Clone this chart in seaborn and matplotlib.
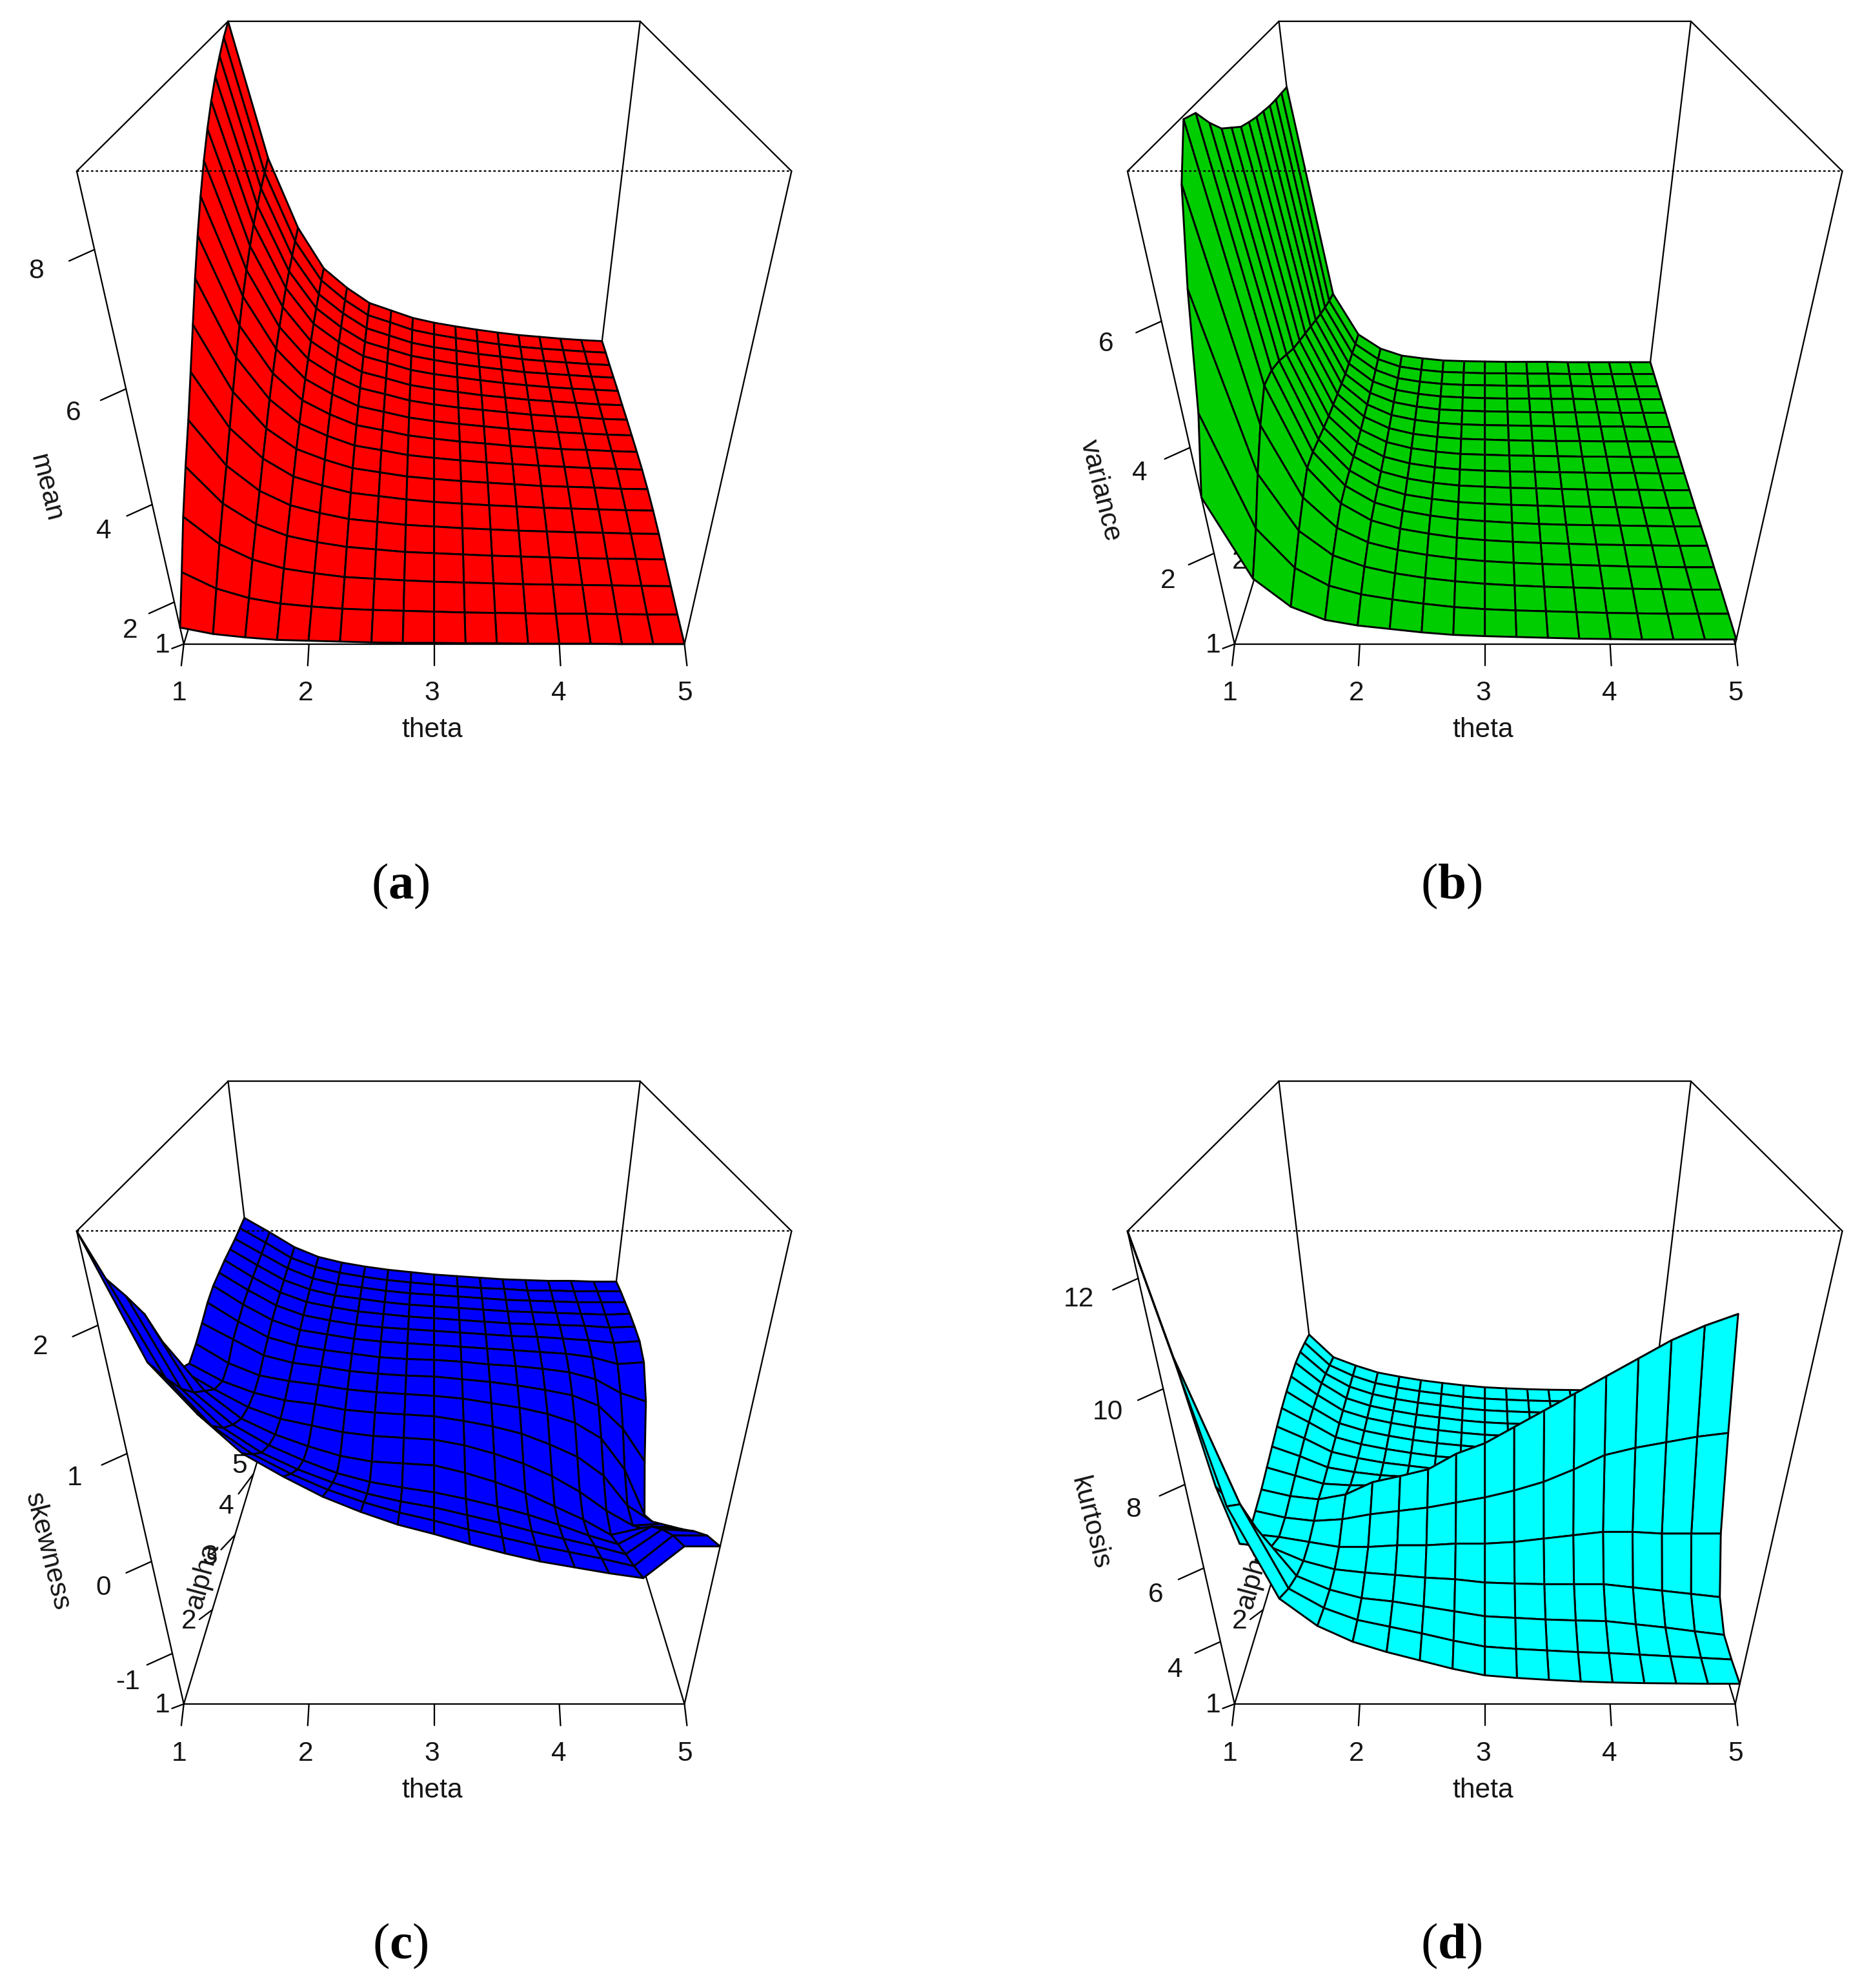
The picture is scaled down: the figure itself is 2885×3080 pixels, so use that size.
import numpy as np
import matplotlib
matplotlib.use("Agg")
import matplotlib.pyplot as plt
import seaborn as sns
from matplotlib.collections import PolyCollection

sns.set_style("white")
plt.rcParams['font.family'] = ['Liberation Sans', 'DejaVu Sans']
plt.rcParams['mathtext.fontset'] = 'custom'
plt.rcParams['mathtext.bf'] = 'Liberation Serif:bold'
plt.rcParams['mathtext.rm'] = 'Liberation Serif'

theta_grid = np.arange(1, 5.01, 0.25)
alpha_grid = np.arange(1, 5.01, 0.25)
axis_ticks = [1, 2, 3, 4, 5]

# one row per alpha, left to right in theta
mean_z = [
    [1.42,1.27,1.19,1.13,1.11,1.09,1.07,1.06,1.06,1.05,1.05,1.04,1.04,1.04,1.03,1.03,1.03],
    [2.10,1.73,1.51,1.38,1.31,1.26,1.23,1.21,1.19,1.17,1.16,1.15,1.14,1.14,1.13,1.12,1.12],
    [2.80,2.20,1.85,1.64,1.53,1.44,1.40,1.36,1.33,1.31,1.29,1.27,1.26,1.25,1.24,1.23,1.22],
    [3.40,2.61,2.15,1.88,1.73,1.62,1.56,1.50,1.47,1.44,1.41,1.39,1.37,1.35,1.34,1.33,1.32],
    [3.95,2.99,2.43,2.10,1.92,1.78,1.71,1.64,1.60,1.56,1.53,1.50,1.48,1.46,1.45,1.43,1.42],
    [4.55,3.39,2.72,2.31,2.10,1.93,1.85,1.77,1.71,1.67,1.63,1.60,1.57,1.55,1.53,1.51,1.50],
    [5.15,3.79,2.99,2.52,2.27,2.07,1.97,1.87,1.81,1.76,1.72,1.68,1.64,1.62,1.60,1.57,1.56],
    [5.75,4.17,3.26,2.71,2.42,2.19,2.08,1.96,1.89,1.83,1.78,1.74,1.70,1.67,1.64,1.62,1.60],
    [6.30,4.52,3.49,2.87,2.54,2.28,2.16,2.03,1.95,1.88,1.83,1.77,1.73,1.69,1.67,1.64,1.62],
    [6.80,4.84,3.70,3.01,2.65,2.36,2.22,2.08,1.99,1.92,1.86,1.80,1.75,1.71,1.68,1.65,1.63],
    [7.25,5.12,3.88,3.14,2.74,2.44,2.29,2.13,2.03,1.95,1.89,1.83,1.77,1.73,1.70,1.66,1.64],
    [7.65,5.37,4.04,3.24,2.82,2.49,2.33,2.16,2.06,1.98,1.90,1.84,1.78,1.74,1.70,1.66,1.64],
    [8.00,5.59,4.19,3.35,2.90,2.55,2.38,2.20,2.09,2.01,1.93,1.86,1.80,1.75,1.71,1.68,1.65],
    [8.30,5.77,4.31,3.43,2.96,2.59,2.41,2.23,2.12,2.02,1.94,1.87,1.80,1.76,1.72,1.68,1.65],
    [8.55,5.93,4.41,3.49,3.01,2.63,2.44,2.25,2.13,2.04,1.95,1.88,1.81,1.76,1.72,1.68,1.65],
    [8.78,6.07,4.51,3.56,3.06,2.67,2.48,2.28,2.16,2.06,1.97,1.89,1.82,1.77,1.73,1.69,1.66],
    [8.97,6.20,4.60,3.60,3.10,2.70,2.50,2.30,2.17,2.07,1.98,1.90,1.83,1.78,1.73,1.69,1.66],
]

variance_z = [
    [3.10,1.47,.85,.55,.42,.34,.26,.20,.17,.15,.13,.11,.10,.09,.09,.09,.09],
    [4.20,2.00,1.15,.75,.55,.43,.33,.25,.20,.17,.15,.13,.11,.10,.09,.09,.09],
    [5.90,2.65,1.45,.90,.64,.48,.37,.29,.23,.19,.16,.14,.12,.11,.10,.09,.09],
    [7.20,3.20,1.70,1.02,.68,.50,.38,.29,.23,.19,.16,.14,.12,.10,.09,.08,.08],
    [7.92,3.60,1.90,1.10,.70,.50,.38,.28,.22,.18,.15,.13,.11,.10,.09,.08,.08],
    [7.85,3.55,1.83,1.05,.65,.45,.33,.24,.19,.15,.12,.10,.09,.08,.07,.06,.06],
    [7.55,3.40,1.70,.97,.58,.38,.27,.19,.15,.12,.10,.08,.07,.06,.05,.04,.04],
    [7.30,3.20,1.57,.88,.51,.33,.22,.15,.12,.09,.08,.06,.05,.04,.04,.03,.03],
    [7.15,3.00,1.45,.80,.45,.28,.18,.12,.09,.07,.06,.05,.04,.03,.03,.02,.02],
    [7.00,2.85,1.35,.73,.41,.25,.16,.10,.08,.06,.05,.04,.03,.03,.02,.02,.02],
    [6.92,2.70,1.25,.67,.37,.22,.14,.09,.07,.05,.04,.03,.03,.02,.02,.02,.01],
    [6.85,2.55,1.15,.61,.33,.20,.12,.08,.06,.05,.04,.03,.02,.02,.02,.01,.01],
    [6.80,2.40,1.05,.55,.30,.18,.10,.07,.05,.04,.03,.02,.02,.02,.01,.01,.01],
    [6.75,2.25,.98,.50,.27,.16,.09,.06,.04,.03,.03,.02,.02,.01,.01,.01,.01],
    [6.72,2.12,.92,.47,.24,.14,.08,.05,.04,.03,.02,.02,.02,.01,.01,.01,.01],
    [6.70,2.00,.85,.43,.22,.13,.07,.05,.03,.03,.02,.02,.01,.01,.01,.01,.01],
    [6.68,1.90,.80,.40,.20,.12,.06,.04,.03,.02,.02,.02,.01,.01,.01,.01,.01],
]

# these two are kept one row per theta, bottom to top in alpha
skewness_by_theta = [
    [2.63,2.2,1.95,1.68,1.3,.9,.8,.85,.92,1.0,1.05,1.07,1.09,1.1,1.11,1.13,1.15],
    [1.73,1.45,1.2,1.0,.85,.7,.62,.65,.75,.8,.85,.88,.9,.92,.94,.96,.98],
    [1.33,1.05,.85,.7,.58,.52,.5,.52,.58,.63,.68,.71,.73,.75,.77,.78,.8],
    [1.0,.8,.62,.5,.42,.4,.42,.46,.5,.54,.57,.6,.62,.64,.65,.67,.68],
    [.8,.62,.46,.35,.3,.33,.38,.42,.46,.49,.52,.54,.56,.57,.58,.6,.61],
    [.62,.47,.33,.22,.2,.26,.32,.37,.41,.45,.47,.49,.51,.53,.54,.55,.56],
    [.48,.35,.22,.13,.14,.22,.29,.34,.38,.41,.44,.46,.48,.49,.5,.51,.52],
    [.36,.25,.14,.07,.12,.2,.27,.32,.36,.39,.42,.44,.45,.46,.47,.48,.49],
    [.27,.17,.08,.02,.1,.18,.25,.3,.35,.38,.4,.42,.43,.44,.45,.455,.46],
    [.17,.08,0,-.05,.02,.12,.2,.27,.32,.36,.38,.4,.41,.42,.43,.43,.44],
    [.08,0,-.08,-.13,-.08,.03,.14,.22,.29,.33,.36,.38,.39,.4,.41,.41,.42],
    [0,-.08,-.17,-.22,-.2,-.08,.06,.17,.25,.31,.34,.36,.37,.38,.39,.4,.4],
    [-.06,-.15,-.25,-.33,-.35,-.22,-.06,.1,.2,.28,.32,.35,.36,.37,.38,.38,.39],
    [-.12,-.22,-.33,-.45,-.5,-.4,-.2,0,.14,.24,.3,.33,.35,.36,.37,.38,.38],
    [-.17,-.3,-.42,-.55,-.68,-.62,-.42,-.18,.02,.16,.26,.31,.34,.35,.36,.37,.38],
    [.15,.02,-.15,-.35,-.6,-.8,-.78,-.55,-.25,0,.18,.28,.32,.34,.36,.37,.37],
    [.15,.02,-.17,-.38,-.58,-.78,-.98,-1.12,-.65,-.1,.2,.3,.33,.35,.36,.37,.37],
]

kurtosis_by_theta = [
    [12.77,10.2,6.9,4.8,4.5,4.6,4.7,4.85,5.0,5.15,5.28,5.38,5.45,5.5,5.48,5.42,5.34],
    [7.5,7.0,5.8,4.7,4.4,4.4,4.5,4.6,4.7,4.78,4.83,4.85,4.85,4.83,4.75,4.65,4.55],
    [5.2,4.8,4.5,4.3,4.25,4.3,4.4,4.35,4.35,4.35,4.35,4.35,4.33,4.32,4.3,4.28,4.25],
    [4.45,4.25,4.1,4.05,4.1,4.35,4.55,4.3,4.2,4.15,4.12,4.1,4.08,4.06,4.04,4.02,4.0],
    [4.0,3.9,3.85,3.95,4.1,4.5,4.92,4.3,4.1,4.0,3.96,3.93,3.91,3.89,3.87,3.86,3.85],
    [3.7,3.7,3.75,3.88,4.15,4.6,5.1,4.3,4.05,3.9,3.83,3.79,3.77,3.75,3.74,3.73,3.72],
    [3.45,3.5,3.6,3.8,4.15,4.7,5.3,4.3,4.0,3.8,3.72,3.68,3.66,3.65,3.64,3.63,3.62],
    [3.2,3.28,3.45,3.75,4.2,4.85,5.75,4.3,3.95,3.75,3.65,3.6,3.57,3.55,3.54,3.53,3.53],
    [3.0,3.1,3.3,3.65,4.2,5.0,6.05,4.3,3.9,3.7,3.58,3.53,3.5,3.48,3.47,3.46,3.46],
    [2.92,3.03,3.25,3.62,4.25,5.2,6.5,4.25,3.85,3.65,3.54,3.49,3.46,3.44,3.43,3.42,3.42],
    [2.86,2.98,3.2,3.6,4.35,5.45,6.95,4.25,3.85,3.62,3.5,3.46,3.43,3.41,3.4,3.39,3.39],
    [2.81,2.93,3.17,3.6,4.45,5.8,7.4,4.2,3.8,3.6,3.48,3.44,3.41,3.39,3.38,3.37,3.37],
    [2.78,2.9,3.15,3.6,4.55,6.2,7.85,4.2,3.8,3.6,3.48,3.42,3.4,3.38,3.37,3.36,3.36],
    [2.76,2.85,3.05,3.5,4.55,6.4,8.3,4.2,3.8,3.58,3.46,3.41,3.39,3.37,3.36,3.35,3.35],
    [2.75,2.8,2.95,3.4,4.5,6.55,8.75,4.2,3.75,3.56,3.45,3.4,3.38,3.37,3.36,3.35,3.35],
    [2.74,2.75,2.83,3.3,4.5,6.7,9.1,4.2,3.7,3.55,3.45,3.4,3.38,3.36,3.35,3.34,3.34],
    [2.74,2.7,2.72,3.2,4.5,6.8,9.38,4.2,3.6,3.5,3.45,3.4,3.38,3.36,3.35,3.34,3.34],
]

panels = [
    ("mean", np.array(mean_z), (1.03, 8.97), [2, 4, 6, 8], "#ff0000", "a", 0, 0, (36, 385)),
    ("variance", np.array(variance_z), (-0.02, 7.96), [2, 4, 6], "#00cd00", "b", 829, 0, (868, 387)),
    ("skewness", np.array(skewness_by_theta).T, (-1.62, 2.63), [-1, 0, 1, 2], "#0000ff", "c", 0, 836, (37, 1224)),
    ("kurtosis", np.array(kurtosis_by_theta).T, (2.1, 12.77), [4, 6, 8, 10, 12], "#00ffff", "d", 829, 836, (860, 1201)),
]


def project(theta, alpha, z, zlim):
    # perspective of the persp() box, in shrunk reference pixels
    u = (np.asarray(theta, float) - 1) / 4
    v = (np.asarray(alpha, float) - 1) / 4
    w = (np.asarray(z, float) - zlim[0]) / (zlim[1] - zlim[0])
    d = 1 + 0.5146 * v - 0.2996 * w
    return 342.5 + (u - 0.5) * 395 / d, (508 - 74.1 * v - 413.45 * w) / d


fig = plt.figure(figsize=(2885 / 300, 3080 / 300), dpi=300)
ax = fig.add_axes([0, 0, 1, 1])
ax.set_xlim(0, 1469)
ax.set_ylim(1568, 0)
ax.axis("off")

ink = "#151515"
box_lw = 0.55
tick_fs = 10.2


def edge(p0, p1, zlim, dx, dy, **kw):
    x0, y0 = project(*p0, zlim)
    x1, y1 = project(*p1, zlim)
    ax.plot([x0 + dx, x1 + dx], [y0 + dy, y1 + dy], color="black", lw=kw.pop("lw", box_lw), **kw)


for name, z, zlim, zticks, color, tag, dx, dy, name_pos in panels:
    lo, hi = zlim
    # back of the box first
    edge((1, 5, hi), (5, 5, hi), zlim, dx, dy, zorder=1)
    edge((1, 1, hi), (1, 5, hi), zlim, dx, dy, zorder=1)
    edge((5, 1, hi), (5, 5, hi), zlim, dx, dy, zorder=1)
    edge((1, 5, lo), (1, 5, hi), zlim, dx, dy, zorder=1)
    edge((5, 5, lo), (5, 5, hi), zlim, dx, dy, zorder=1)
    edge((1, 1, lo), (1, 5, lo), zlim, dx, dy, zorder=1)
    edge((5, 1, lo), (5, 5, lo), zlim, dx, dy, zorder=1)
    edge((1, 5, lo), (5, 5, lo), zlim, dx, dy, zorder=1)

    # alpha axis sits behind the surface
    for a in axis_ticks:
        x, y = project(1, a, lo, zlim)
        shift_x = -17 - 1.5 * (a - 1)
        shift_y = 8.2 * (a - 1) + 1
        ax.plot([x + dx, x + dx + shift_x * 0.55], [y + dy, y + dy + shift_y * 0.5 + 3],
                color="black", lw=box_lw, zorder=1)
        ax.text(x + dx + shift_x, y + dy + shift_y, str(a), fontsize=tick_fs, color=ink,
                ha="center", va="center", zorder=1)
    ax.text(160 + dx, 407 + dy, "alpha", fontsize=tick_fs, color=ink,
            rotation=75, ha="center", va="center", zorder=1)

    # facets back to front, outside in
    verts = []
    order = sorted(range(len(theta_grid) - 1), key=lambda j: -abs(j - 7.5))
    for i in range(len(alpha_grid) - 2, -1, -1):
        for j in order:
            tt = [theta_grid[j], theta_grid[j + 1], theta_grid[j + 1], theta_grid[j]]
            aa = [alpha_grid[i], alpha_grid[i], alpha_grid[i + 1], alpha_grid[i + 1]]
            zz = [z[i, j], z[i, j + 1], z[i + 1, j + 1], z[i + 1, j]]
            px, py = project(tt, aa, zz, zlim)
            verts.append(np.column_stack([px + dx, py + dy]))
    ax.add_collection(PolyCollection(verts, facecolors=color, edgecolors="black",
                                     linewidths=0.7, zorder=2))

    # front of the box over it
    edge((1, 1, hi), (5, 1, hi), zlim, dx, dy, zorder=3, linestyle=(0, (1.6, 1.6)))
    edge((1, 1, lo), (1, 1, hi), zlim, dx, dy, zorder=3)
    edge((5, 1, lo), (5, 1, hi), zlim, dx, dy, zorder=3)
    edge((1, 1, lo), (5, 1, lo), zlim, dx, dy, zorder=3)

    for t in axis_ticks:
        x, y = project(t, 1, lo, zlim)
        tip = x + (x - 342.5) * 0.01
        ax.plot([x + dx, tip + dx], [y + dy, y + dy + 17], color="black", lw=box_lw, zorder=3)
        ax.text(tip + dx - 1.5, 547 + dy, str(t), fontsize=tick_fs, color=ink,
                ha="center", va="center", zorder=3)
    ax.text(341 + dx, 576 + dy, "theta", fontsize=tick_fs, color=ink,
            ha="center", va="center", zorder=3)

    for zt in zticks:
        x, y = project(1, 1, zt, zlim)
        ax.plot([x + dx, x + dx - 20], [y + dy, y + dy + 9], color="black", lw=box_lw, zorder=3)
        ax.text(x + dx - 46 + (y - 197) * 0.04, y + dy + 17 + (y - 197) * 0.02, str(zt),
                fontsize=tick_fs, color=ink, ha="center", va="center", zorder=3)
    ax.text(name_pos[0], name_pos[1], name, fontsize=tick_fs, color=ink, rotation=-76,
            ha="center", va="center", zorder=3)

    ax.text(316 + dx, 699 + dy, "($\\mathbf{%s}$)" % tag, fontsize=19,
            family="Liberation Serif", color="black", ha="center", va="center", zorder=3)

fig.savefig("out.png", dpi=300, facecolor="white")
